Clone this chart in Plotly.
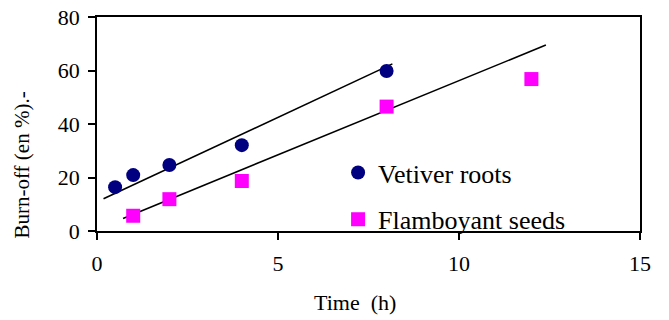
import plotly.graph_objects as go

# ---- data ----
vetiver_time = [0.5, 1, 2, 4, 8]
vetiver_burnoff = [16.4, 20.9, 24.7, 32.1, 59.8]

flamboyant_time = [1, 2, 4, 8, 12]
flamboyant_burnoff = [5.7, 11.9, 18.7, 46.5, 56.8]

# trend lines (slope, intercept) and x-extent as drawn
vetiver_trend_slope = 6.32
vetiver_trend_intercept = 10.9
vetiver_trend_x = [0.18, 8.16]

flamboyant_trend_slope = 5.55
flamboyant_trend_intercept = 0.7
flamboyant_trend_x = [0.72, 12.4]

x_ticks = [0, 5, 10, 15]
y_ticks = [0, 20, 40, 60, 80]

FONT = "Liberation Serif"
NAVY = "#000080"
MAGENTA = "#FF00FF"

fig = go.Figure()

fig.add_trace(go.Scatter(
    x=vetiver_trend_x,
    y=[vetiver_trend_slope * v + vetiver_trend_intercept for v in vetiver_trend_x],
    mode="lines", line=dict(color="black", width=1.6), showlegend=False, hoverinfo="skip"))
fig.add_trace(go.Scatter(
    x=flamboyant_trend_x,
    y=[flamboyant_trend_slope * v + flamboyant_trend_intercept for v in flamboyant_trend_x],
    mode="lines", line=dict(color="black", width=1.6), showlegend=False, hoverinfo="skip"))

fig.add_trace(go.Scatter(
    x=vetiver_time, y=vetiver_burnoff, mode="markers", name="Vetiver roots",
    legendgroup="a",
    marker=dict(symbol="circle", size=14, color=NAVY)))
fig.add_trace(go.Scatter(
    x=flamboyant_time, y=flamboyant_burnoff, mode="markers", name="Flamboyant seeds",
    legendgroup="b",
    marker=dict(symbol="square", size=14, color=MAGENTA)))

axis_common = dict(
    showline=True, linecolor="black", linewidth=1.6, mirror=True,
    ticks="outside", ticklen=7, tickwidth=1.6, tickcolor="black",
    showgrid=False, zeroline=False, automargin=False,
    tickfont=dict(family=FONT, size=22, color="black"),
)

fig.update_xaxes(range=[0, 15], tickvals=x_ticks, ticklabelstandoff=5, **axis_common)
fig.update_yaxes(range=[0, 80], tickvals=y_ticks, ticklabelstandoff=4, **axis_common)

fig.update_layout(
    width=669, height=320,
    margin=dict(l=97, r=29, t=17, b=89),
    paper_bgcolor="white", plot_bgcolor="white",
    font=dict(family=FONT, color="black"),
    showlegend=True,
    legend=dict(
        x=0.444, y=0.383, xanchor="left", yanchor="top",
        bgcolor="rgba(0,0,0,0)",
        font=dict(family=FONT, size=26, color="black"),
        tracegroupgap=10, itemwidth=30,
    ),
    annotations=[
        dict(text="Time  (h)", xref="paper", yref="paper", x=0.475, y=0,
             yshift=-71, xanchor="center", yanchor="middle", showarrow=False,
             font=dict(family=FONT, size=22, color="black")),
        dict(text="Burn-off (en %).-", xref="paper", yref="paper", x=0, xshift=-75,
             y=0.306, xanchor="center", yanchor="middle", textangle=-90, showarrow=False,
             font=dict(family=FONT, size=21, color="black")),
    ],
)

# remove the default 8px page margin so the figure sits at the window's corner
fig.write_html("out.html", config={"displayModeBar": False},
               post_script="document.body.style.margin='0';")
